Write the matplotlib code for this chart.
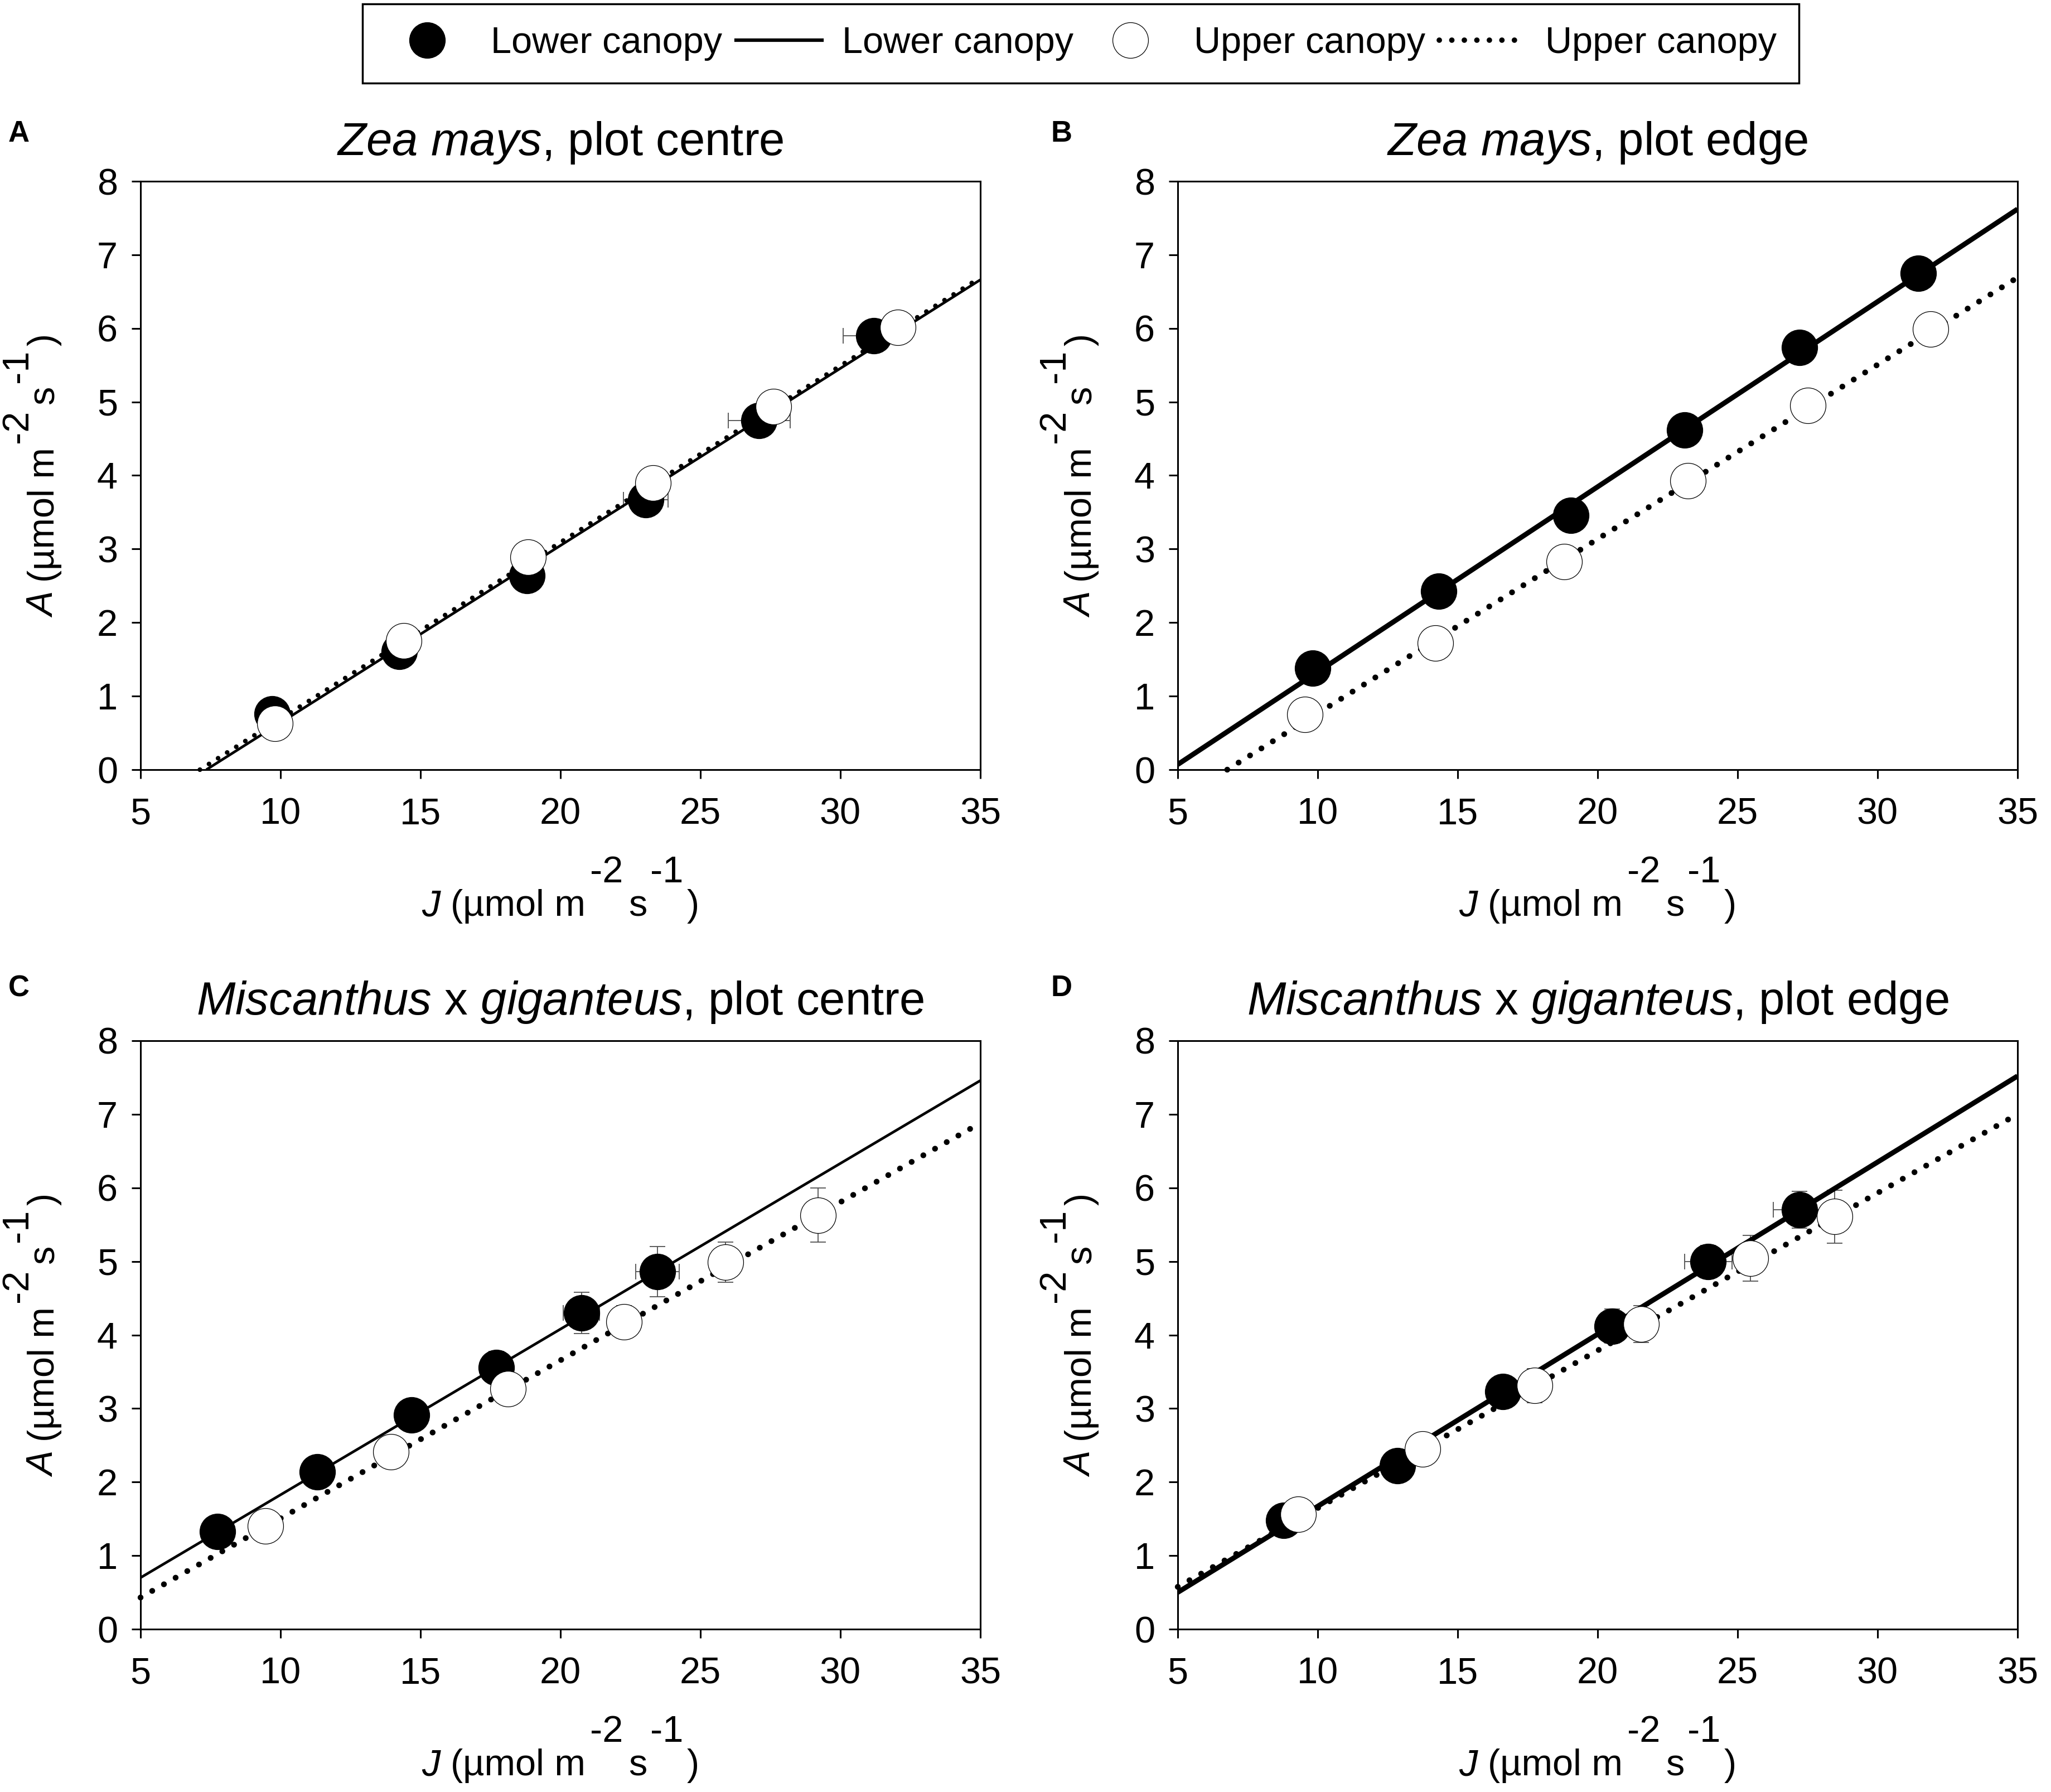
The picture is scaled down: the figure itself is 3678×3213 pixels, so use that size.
import numpy as np
import matplotlib
matplotlib.use('Agg')
import matplotlib.pyplot as plt
from matplotlib.lines import Line2D
from matplotlib.transforms import IdentityTransform

plt.rcParams['font.family'] = ['Liberation Sans', 'DejaVu Sans']
plt.rcParams['mathtext.fontset'] = 'custom'
plt.rcParams['mathtext.rm'] = 'Liberation Sans'
plt.rcParams['mathtext.it'] = 'Liberation Sans:italic'
plt.rcParams['mathtext.bf'] = 'Liberation Sans:bold'

# ---------------- data ----------------
panel_letters = ['A', 'B', 'C', 'D']
titles = [r'$\it{Zea\ mays}$, plot centre',
          r'$\it{Zea\ mays}$, plot edge',
          r'$\it{Miscanthus}$ x $\it{giganteus}$, plot centre',
          r'$\it{Miscanthus}$ x $\it{giganteus}$, plot edge']
legend_labels = ['Lower canopy', 'Lower canopy', 'Upper canopy', 'Upper canopy']
x_ticks = [5, 10, 15, 20, 25, 30, 35]
y_ticks = [0, 1, 2, 3, 4, 5, 6, 7, 8]

# Panel A: Zea mays, plot centre
a_low_J = [9.7, 14.25, 18.8, 23.05, 27.1, 31.2]
a_low_A = [0.76, 1.61, 2.64, 3.67, 4.75, 5.9]
a_low_Jerr = [0.1, 0.15, 0.3, 0.8, 1.1, 1.1]
a_low_Aerr = [0.08, 0.08, 0.1, 0.1, 0.1, 0.1]
a_up_J = [9.8, 14.4, 18.85, 23.3, 27.6, 32.05]
a_up_A = [0.63, 1.75, 2.89, 3.9, 4.94, 6.01]
a_up_Jerr = [0.1, 0.15, 0.2, 0.3, 0.5, 0.4]
a_up_Aerr = [0.08, 0.08, 0.1, 0.1, 0.1, 0.1]
a_low_fit = [0.2409, -1.771]   # slope, intercept
a_up_fit = [0.2400, -1.709]

# Panel B: Zea mays, plot edge
b_low_J = [9.83, 14.32, 19.05, 23.1, 27.22, 31.45]
b_low_A = [1.38, 2.43, 3.46, 4.62, 5.74, 6.75]
b_low_Jerr = [0.1, 0.15, 0.2, 0.2, 0.2, 0.3]
b_low_Aerr = [0.08, 0.08, 0.1, 0.1, 0.15, 0.2]
b_up_J = [9.55, 14.2, 18.8, 23.23, 27.5, 31.9]
b_up_A = [0.75, 1.72, 2.83, 3.93, 4.95, 5.99]
b_up_Jerr = [0.1, 0.15, 0.2, 0.2, 0.2, 0.2]
b_up_Aerr = [0.08, 0.08, 0.1, 0.1, 0.1, 0.1]
b_low_fit = [0.2517, -1.188]
b_up_fit = [0.2370, -1.604]

# Panel C: Miscanthus x giganteus, plot centre
c_low_J = [7.75, 11.31, 14.69, 17.7, 20.75, 23.47]
c_low_A = [1.33, 2.14, 2.91, 3.56, 4.3, 4.86]
c_low_Jerr = [0.1, 0.1, 0.15, 0.3, 0.65, 0.78]
c_low_Aerr = [0.08, 0.1, 0.1, 0.22, 0.28, 0.34]
c_up_J = [9.47, 13.94, 18.13, 22.27, 25.9, 29.2]
c_up_A = [1.4, 2.41, 3.27, 4.18, 4.99, 5.63]
c_up_Jerr = [0.1, 0.15, 0.2, 0.35, 0.3, 0.55]
c_up_Aerr = [0.08, 0.1, 0.15, 0.22, 0.27, 0.37]
c_low_fit = [0.2253, -0.427]
c_up_fit = [0.2150, -0.645]

# Panel D: Miscanthus x giganteus, plot edge
d_low_J = [8.79, 12.85, 16.62, 20.51, 23.95, 27.22]
d_low_A = [1.48, 2.22, 3.23, 4.12, 5.0, 5.7]
d_low_Jerr = [0.1, 0.15, 0.2, 0.3, 0.85, 0.95]
d_low_Aerr = [0.08, 0.1, 0.12, 0.23, 0.22, 0.25]
d_up_J = [9.31, 13.74, 17.75, 21.55, 25.46, 28.47]
d_up_A = [1.56, 2.45, 3.31, 4.15, 5.04, 5.61]
d_up_Jerr = [0.1, 0.15, 0.2, 0.3, 0.4, 0.4]
d_up_Aerr = [0.08, 0.12, 0.23, 0.25, 0.31, 0.36]
d_low_fit = [0.2340, -0.670]
d_up_fit = [0.2142, -0.496]

panels = [
    (a_low_J, a_low_A, a_low_Jerr, a_low_Aerr, a_up_J, a_up_A, a_up_Jerr, a_up_Aerr, a_low_fit, a_up_fit),
    (b_low_J, b_low_A, b_low_Jerr, b_low_Aerr, b_up_J, b_up_A, b_up_Jerr, b_up_Aerr, b_low_fit, b_up_fit),
    (c_low_J, c_low_A, c_low_Jerr, c_low_Aerr, c_up_J, c_up_A, c_up_Jerr, c_up_Aerr, c_low_fit, c_up_fit),
    (d_low_J, d_low_A, d_low_Jerr, d_low_Aerr, d_up_J, d_up_A, d_up_Jerr, d_up_Aerr, d_low_fit, d_up_fit),
]

# ---------------- style / layout ----------------
W, H, DPI = 3678, 3213, 100
FS = 48
MS = 46
solid_lw = [3.4, 6.5, 3.4, 6.5]
dot_lw = [6.0, 7.5, 7.5, 7.5]
col_left = [252, 2112]
row_top = [325, 1866]
ax_w, ax_h = 1506, 1055

fig = plt.figure(figsize=(W / DPI, H / DPI), dpi=DPI)
fig.patch.set_facecolor('white')

axes = []
for i in range(4):
    r, c = divmod(i, 2)
    l = col_left[c] / W
    b = 1 - (row_top[r] + ax_h) / H
    ax = fig.add_axes([l, b, ax_w / W, ax_h / H])
    axes.append(ax)
    (lJ, lA, lJe, lAe, uJ, uA, uJe, uAe, lfit, ufit) = panels[i]

    ax.errorbar(lJ, lA, xerr=lJe, yerr=lAe, fmt='none', ecolor='#505050',
                elinewidth=1.3, capsize=10, capthick=1.3, zorder=1)
    ax.errorbar(uJ, uA, xerr=uJe, yerr=uAe, fmt='none', ecolor='#505050',
                elinewidth=1.3, capsize=10, capthick=1.3, zorder=1)

    m, k = lfit
    xs = np.array([max(5.0, -k / m), 35.0])
    ax.plot(xs, m * xs + k, color='black', lw=solid_lw[i], solid_capstyle='butt', zorder=2)
    m, k = ufit
    xs = np.array([max(5.0, -k / m), 35.0])
    ax.plot(xs, m * xs + k, color='black', lw=dot_lw[i], ls=(0, (0.01, 2.3)),
            dash_capstyle='round', zorder=2, clip_on=False)

    ax.plot(lJ, lA, 'o', ms=MS, mfc='black', mec='black', mew=1, zorder=3)
    ax.plot(uJ, uA, 'o', ms=MS, mfc='white', mec='black', mew=0.9, zorder=4)

    ax.set_xlim(5, 35)
    ax.set_ylim(0, 8)
    ax.set_xticks(x_ticks)
    ax.set_yticks(y_ticks)
    for s in ax.spines.values():
        s.set_linewidth(2.2)
        s.set_color('black')
    ax.tick_params(axis='both', direction='out', length=11.5, width=2.2,
                   labelsize=FS, colors='black')
    ax.tick_params(axis='x', pad=24)
    ax.tick_params(axis='y', pad=18)
    ax.set_title(titles[i], fontsize=60, pad=34)

# panel letters
letter_pos = [(15, 240), (1885, 240), (15, 1772), (1885, 1772)]
for lt, (px, py) in zip(panel_letters, letter_pos):
    fig.text(px / W, 1 - py / H, lt, fontsize=38, fontweight='bold',
             ha='left', va='center')

# legend
handles = [
    Line2D([], [], ls='none', marker='o', ms=MS, mfc='black', mec='black'),
    Line2D([], [], color='black', lw=4.5),
    Line2D([], [], ls='none', marker='o', ms=MS, mfc='white', mec='black', mew=0.9),
    Line2D([], [], color='black', lw=7, ls=(0, (0.01, 2.3)), dash_capstyle='round'),
]
leg = fig.legend(handles, legend_labels, ncol=4, loc='center',
                 bbox_to_anchor=(1938 / W, 1 - 78 / H), frameon=True,
                 fancybox=False, edgecolor='black', framealpha=1, fontsize=FS,
                 handlelength=2.3, handletextpad=0.55, columnspacing=0.38,
                 borderpad=0.6, borderaxespad=0)
leg.get_frame().set_linewidth(2.5)

# axis labels with raised exponents (SigmaPlot style)
renderer = fig.canvas.get_renderer()
idt = IdentityTransform()

x_pieces = [('J', 'italic', False, 0), ('(µmol m', 'normal', False, 18),
            ('-2', 'normal', True, 8), ('s', 'normal', False, 10),
            ('-1', 'normal', True, 6), (')', 'normal', False, 6)]
y_pieces = [('A', 'italic', False, 0), ('(µmol m', 'normal', False, 18),
            ('-2', 'normal', True, 8), ('s', 'normal', False, 10),
            ('-1', 'normal', True, 6), (')', 'normal', False, 6)]


def chain(ax, pieces, vertical):
    bb = ax.get_window_extent(renderer)
    texts, lens = [], []
    for s, st, up, gap in pieces:
        t = fig.text(0, 0, s, transform=idt, fontsize=FS, style=st,
                     ha='left', va='baseline',
                     rotation=90 if vertical else 0, rotation_mode='anchor')
        e = t.get_window_extent(renderer)
        texts.append(t)
        lens.append(e.height if vertical else e.width)
    total = sum(lens) + sum(p[3] for p in pieces)
    if vertical:
        pos = (bb.y0 + bb.y1) / 2 - total / 2
        base = bb.x0 - 155
        for t, L, (s, st, up, gap) in zip(texts, lens, pieces):
            pos += gap
            t.set_position((base - (48 if up else 0), pos))
            pos += L
    else:
        pos = (bb.x0 + bb.x1) / 2 - total / 2
        base = bb.y0 - 262
        for t, L, (s, st, up, gap) in zip(texts, lens, pieces):
            pos += gap
            t.set_position((pos, base + (60 if up else 0)))
            pos += L


for ax in axes:
    chain(ax, x_pieces, False)
    chain(ax, y_pieces, True)

fig.savefig('out.png', dpi=DPI, facecolor='white')
